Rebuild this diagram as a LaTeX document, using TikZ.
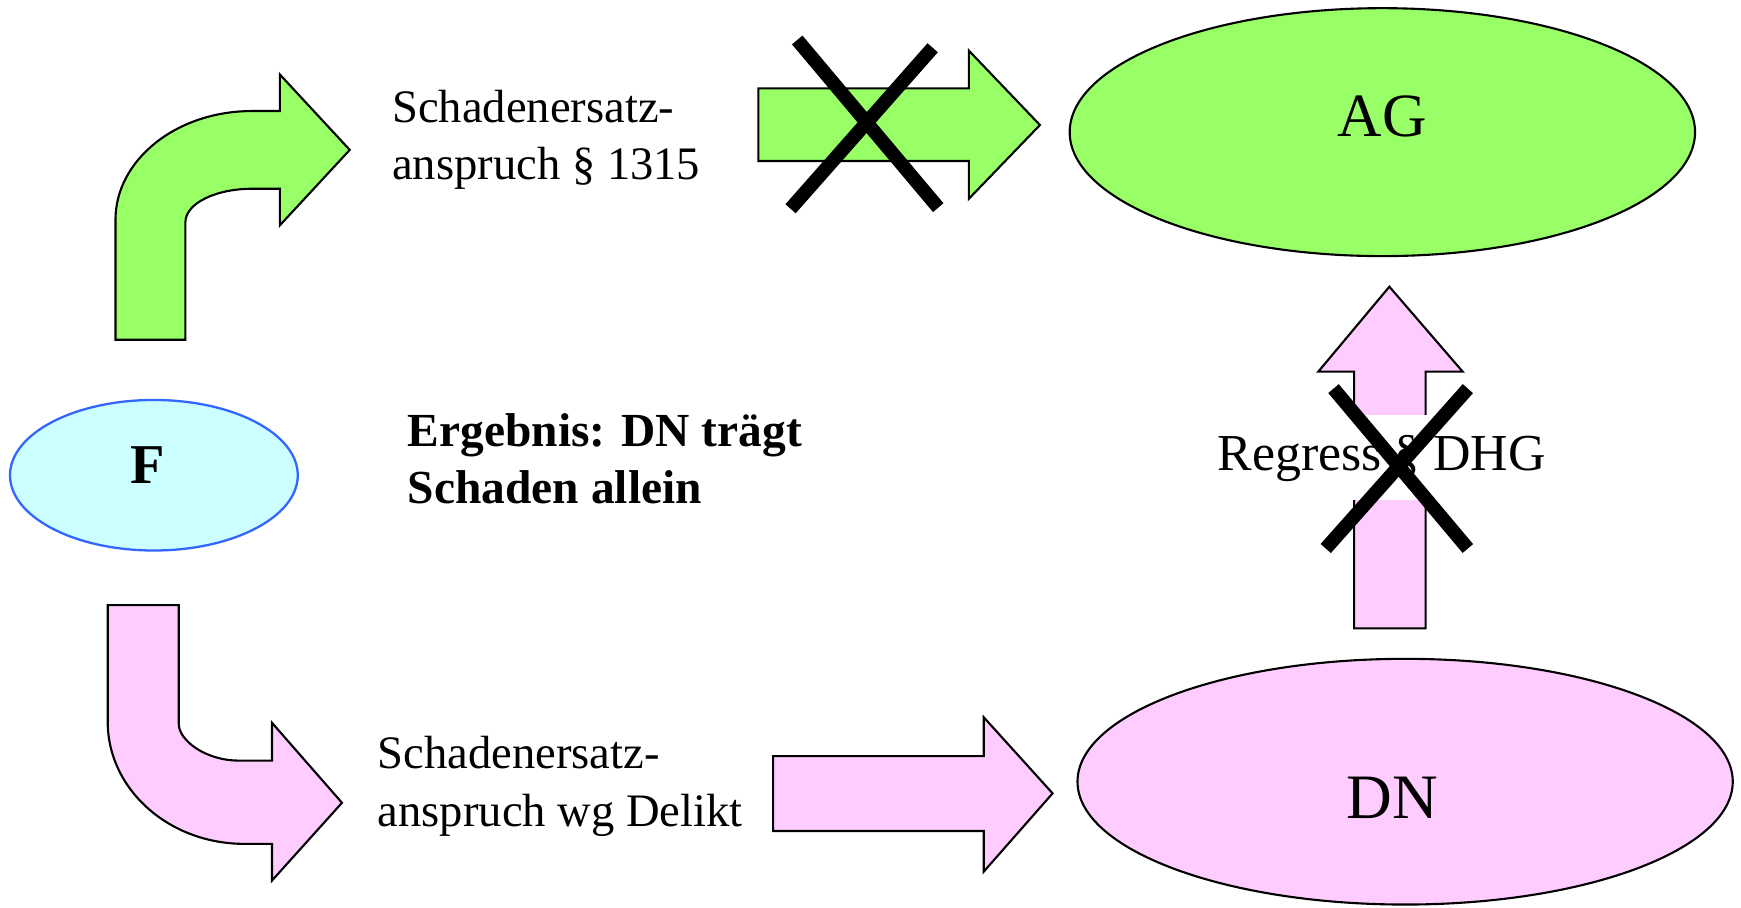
\documentclass[tikz,border=0pt]{standalone}
\usepackage{fontspec}
\setmainfont{Liberation Serif}
\usetikzlibrary{shapes.geometric}
\definecolor{lgreen}{HTML}{99FF66}
\definecolor{lpink}{HTML}{FFCCFF}
\definecolor{lcyan}{HTML}{CCFFFF}
\definecolor{fblue}{HTML}{3366FF}
\def\pxunit{0.6297pt}
\tikzset{
  blockarrow/.style={draw=black, line width=1.2pt, line join=miter},
  crossbar/.style={draw=black, line width=7.8pt, line cap=butt},
  oval/.style={ellipse, draw=black, line width=1.2pt, inner sep=0pt},
  regtext/.style={inner sep=0pt, anchor=base west, font=\fontsize{26.5pt}{32.5pt}\selectfont},
  boldtext/.style={inner sep=0pt, anchor=base west, font=\fontsize{27pt}{32.5pt}\selectfont\bfseries},
}
\begin{document}
\begin{tikzpicture}[x=0.022206cm, y=-0.022206cm]
\useasboundingbox (0,0) rectangle (1568,817);

% ellipses
\node[oval, fill=lgreen, minimum width={565*\pxunit}, minimum height={224*\pxunit}] (AG) at (1245,119) {};
\node[inner sep=0pt, anchor=base, font=\fontsize{35pt}{40pt}\selectfont] (AGt) at (1245,123) {AG};
\node[oval, fill=lpink, minimum width={592*\pxunit}, minimum height={222*\pxunit}] (DN) at (1265.5,704) {};
\node[inner sep=0pt, anchor=base, font=\fontsize{36pt}{40pt}\selectfont] (DNt) at (1254,737.6) {DN};
\node[ellipse, draw=fblue, line width=1.3pt, fill=lcyan, inner sep=0pt, minimum width={260*\pxunit}, minimum height={136*\pxunit}] (F) at (138.6,428) {};
\node[inner sep=0pt, anchor=base, font=\fontsize{32pt}{36pt}\selectfont\bfseries] (Ft) at (133,435.3) {F};

% green bent arrow
\draw[blockarrow, fill=lgreen] (104,306) -- (104,198) .. controls (104,143.9) and (159,100) .. (227,100)
  -- (252,100) -- (252,67) -- (315,135) -- (252,203) -- (252,170) -- (227,170)
  .. controls (193.9,170) and (167,183.4) .. (167,200) -- (167,306) -- cycle;

% pink bent arrow
\draw[blockarrow, fill=lpink] (97,545) -- (97,650) .. controls (97,710.8) and (152,760) .. (220,760)
  -- (245,760) -- (245,793) -- (308,723) -- (245,651) -- (245,685) -- (215,685)
  .. controls (185.2,685) and (161,666.8) .. (161,652) -- (161,545) -- cycle;

% green straight arrow
\draw[blockarrow, fill=lgreen] (683,79.6) -- (872.6,79.6) -- (872.6,45.6) -- (936.6,112.6)
  -- (872.6,179) -- (872.6,145) -- (683,145) -- cycle;

% pink straight arrow
\draw[blockarrow, fill=lpink] (696.3,681) -- (886,681) -- (886,646) -- (948,714.5)
  -- (886,785) -- (886,748.4) -- (696.3,748.4) -- cycle;

% pink up arrow
\draw[blockarrow, fill=lpink] (1219.5,565.9) -- (1219.5,334.7) -- (1187.3,334.7) -- (1251.3,258.2)
  -- (1317.3,334.7) -- (1284,334.7) -- (1284,565.9) -- cycle;

% texts
\node[regtext] (g1) at (353,110.5) {Schadenersatz-};
\node[regtext] (g2) at (353,162) {anspruch \S\ 1315};
\node[regtext] (p1) at (340,692) {Schadenersatz-};
\node[regtext] (p2) at (340,744) {anspruch wg Delikt};
\node[boldtext] (b1) at (367,402.3) {Ergebnis: DN trägt};
\node[boldtext] (b2) at (367,453.9) {Schaden allein};
\node[inner sep=0pt, anchor=base, fill=white, font=\fontsize{29.5pt}{32.5pt}\selectfont] (reg) at (1244.4,423.3)
  {\rule[-17pt]{0pt}{48.5pt}Regress \S\ DHG};

% crosses
\draw[crossbar] (718,36) -- (845,187);
\draw[crossbar] (840,43) -- (712,188);
\draw[crossbar] (1201,350) -- (1322,494);
\draw[crossbar] (1322,350) -- (1194,494);
\end{tikzpicture}
\end{document}
